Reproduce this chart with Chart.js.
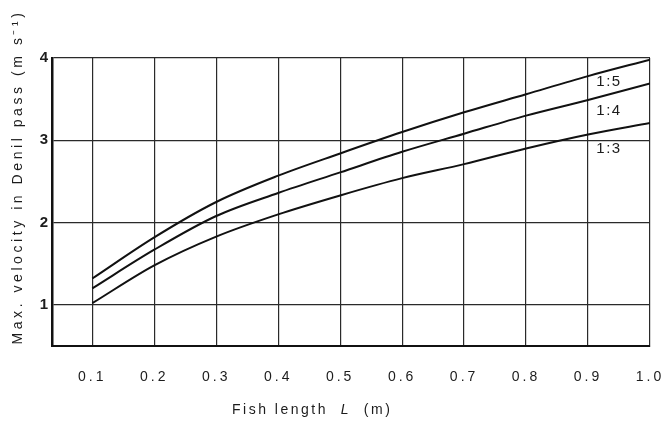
<!DOCTYPE html>
<html>
<head>
<meta charset="utf-8">
<script src="https://cdn.jsdelivr.net/npm/chart.js@4"></script>
<style>
  html, body { margin: 0; padding: 0; background: #fff; }
  #wrap { width: 661px; height: 421px; }
</style>
</head>
<body>
<div id="wrap"><canvas id="velocity-chart" width="661" height="421"></canvas></div>
<script>
// ====== DATA ======
const fishLengths = [0.1, 0.2, 0.3, 0.4, 0.5, 0.6, 0.7, 0.8, 0.9, 1.0];
const slope15 = [1.32, 1.82, 2.25, 2.57, 2.84, 3.10, 3.34, 3.56, 3.78, 3.98];
const slope14 = [1.20, 1.67, 2.08, 2.36, 2.61, 2.86, 3.08, 3.30, 3.49, 3.69];
const slope13 = [1.02, 1.48, 1.83, 2.10, 2.33, 2.54, 2.71, 2.90, 3.07, 3.21];
const seriesNames = ['1:5', '1:4', '1:3'];
const xTicks = [0.1, 0.2, 0.3, 0.4, 0.5, 0.6, 0.7, 0.8, 0.9, 1.0];
const yTicks = [1, 2, 3, 4];

const FONT = "'Liberation Sans', Arial, sans-serif";
const INK = '#1c1c1c';

function toPoints(values) {
  return fishLengths.map((x, i) => ({ x: x, y: values[i] }));
}

function lineDataset(name, values) {
  return {
    label: name,
    data: toPoints(values),
    borderColor: '#111',
    borderWidth: 2,
    pointRadius: 0,
    cubicInterpolationMode: 'monotone',
    fill: false
  };
}

// ====== PLUGINS ======

// spaced-out lettering like the printed figure
const spacingPlugin = {
  id: 'spacing',
  beforeDraw(chart) {
    chart.ctx.letterSpacing = '3px';
  }
};

// series labels just under each curve's right end
const curveLabels = {
  id: 'curveLabels',
  afterDatasetsDraw(chart) {
    const ctx = chart.ctx;
    const xs = chart.scales.x;
    const ys = chart.scales.y;
    ctx.save();
    ctx.font = '15px ' + FONT;
    ctx.letterSpacing = '1.5px';
    ctx.fillStyle = INK;
    ctx.textAlign = 'center';
    ctx.textBaseline = 'middle';
    const offsets = [14, 19, 20];
    chart.data.datasets.forEach((ds, i) => {
      const n = ds.data.length;
      const a = ds.data[n - 2], b = ds.data[n - 1];
      const yMid = (a.y + b.y) / 2;
      ctx.fillText(ds.label, xs.getPixelForValue((a.x + b.x) / 2) - 10, ys.getPixelForValue(yMid) + offsets[i]);
    });
    ctx.restore();
  }
};

// axis titles (italic L, superscript unit)
const axisTitles = {
  id: 'axisTitles',
  afterDraw(chart) {
    const ctx = chart.ctx;
    ctx.save();
    ctx.fillStyle = INK;
    ctx.textBaseline = 'middle';

    // y title
    const yText = 'Max. velocity in Denil pass (m s\u207B\u00B9)';
    ctx.font = '14px ' + FONT;
    ctx.letterSpacing = '0px';
    const wy = ctx.measureText(yText).width;
    ctx.letterSpacing = ((335 - wy) / yText.length).toFixed(2) + 'px';
    ctx.translate(18, 177);
    ctx.rotate(-Math.PI / 2);
    ctx.textAlign = 'center';
    ctx.fillText(yText, 0, 0);
    ctx.setTransform(1, 0, 0, 1, 0, 0);

    // x title
    const parts = [
      ['Fish length  ', 'normal'],
      ['L', 'italic'],
      ['  (m)', 'normal']
    ];
    ctx.textAlign = 'left';
    ctx.letterSpacing = '2.5px';
    let x = 232;
    parts.forEach(([txt, style]) => {
      ctx.font = style + ' 14px ' + FONT;
      ctx.fillText(txt, x, 410);
      x += ctx.measureText(txt).width;
    });
    ctx.restore();
  }
};

// ====== CHART ======
const chartCtx = document.getElementById('velocity-chart').getContext('2d');
const velocityChart = new Chart(chartCtx, {
  type: 'line',
  data: {
    datasets: [
      lineDataset(seriesNames[0], slope15),
      lineDataset(seriesNames[1], slope14),
      lineDataset(seriesNames[2], slope13)
    ]
  },
  options: {
    responsive: false,
    animation: false,
    layout: { padding: { top: 58, right: 11, left: 0, bottom: 0 } },
    plugins: {
      legend: { display: false },
      tooltip: { enabled: false }
    },
    scales: {
      x: {
        type: 'linear',
        min: 0.035,
        max: 1.0,
        afterBuildTicks: (scale) => { scale.ticks = xTicks.map(v => ({ value: v })); },
        afterFit: (scale) => {
          scale.height = 75;
          scale.paddingLeft = 0;
          scale.paddingRight = 0;
        },
        ticks: {
          padding: 23,
          color: INK,
          font: { family: FONT, size: 14 },
          maxRotation: 0,
          callback: (v) => Number(v).toFixed(1)
        },
        grid: { color: '#2a2a2a', lineWidth: 1.2, drawTicks: false },
        border: { color: '#111', width: 2 }
      },
      y: {
        type: 'linear',
        min: 0.5,
        max: 4,
        afterBuildTicks: (scale) => { scale.ticks = yTicks.map(v => ({ value: v })); },
        afterFit: (scale) => {
          scale.width = 52;
          scale.paddingTop = 0;
          scale.paddingBottom = 0;
        },
        ticks: {
          padding: 1,
          color: INK,
          font: { family: FONT, size: 15, weight: 'bold' },
          callback: (v) => String(v)
        },
        grid: { color: '#2a2a2a', lineWidth: 1.2, drawTicks: false },
        border: { color: '#111', width: 2.5 }
      }
    }
  },
  plugins: [spacingPlugin, curveLabels, axisTitles]
});
</script>
</body>
</html>
